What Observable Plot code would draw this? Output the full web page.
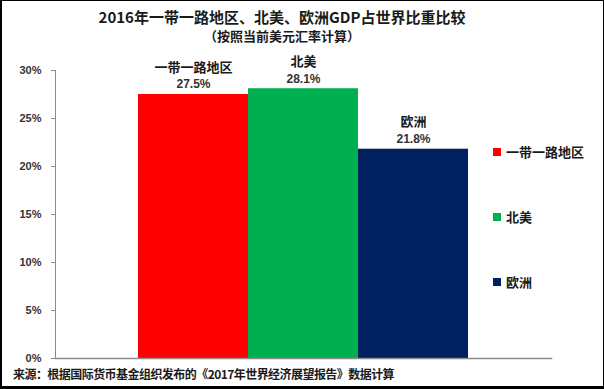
<!DOCTYPE html>
<html>
<head>
<meta charset="utf-8">
<script src="https://cdn.jsdelivr.net/npm/d3@7"></script>
<script src="https://cdn.jsdelivr.net/npm/@observablehq/plot@0.6"></script>
<style>
  html, body { margin: 0; padding: 0; background: #fff; }
  #wrap { position: relative; width: 604px; height: 389px; overflow: hidden; background: #fff;
          font-family: "Noto Sans CJK SC", "Liberation Sans", sans-serif; color: #1a1a1a; }
  #border { position: absolute; left: 0; top: 0; width: 604px; height: 389px; box-sizing: border-box;
            border-style: solid; border-color: #000; border-width: 1px 1px 3px 2px; pointer-events: none; }
  .title { position: absolute; left: 0; width: 564px; text-align: center; font-weight: bold; white-space: nowrap; }
  #t1 { top: 8px; font-size: 15px; line-height: 18px; }
  #t2 { top: 28px; font-size: 13px; line-height: 16px; }
  #chart { position: absolute; left: 0; top: 48px; }
  #caption { position: absolute; left: 13px; top: 366px; font-size: 12px; line-height: 16px; font-weight: bold;
             white-space: nowrap; letter-spacing: -0.55px; }
  #legend { position: absolute; left: 493px; top: 0; }
  .item { position: absolute; left: 0; display: flex; align-items: center; white-space: nowrap;
          font-size: 13px; font-weight: bold; line-height: 16px; }
  .sw { width: 8px; height: 8px; margin-right: 5px; }
</style>
</head>
<body>
<div id="wrap">
  <div class="title" id="t1"></div>
  <div class="title" id="t2"></div>
  <div id="chart"></div>
  <div id="legend"></div>
  <div id="caption"></div>
  <div id="border"></div>
</div>
<script>
const title = "2016年一带一路地区、北美、欧洲GDP占世界比重比较";
const subtitle = "（按照当前美元汇率计算）";
const caption = "来源：根据国际货币基金组织发布的《2017年世界经济展望报告》数据计算";
const regions = ["一带一路地区", "北美", "欧洲"];
const shares = [27.5, 28.1, 21.8];
const colors = ["#FF0000", "#00B050", "#002060"];
const yTicks = [0, 5, 10, 15, 20, 25, 30];

document.getElementById("t1").textContent = title;
document.getElementById("t2").textContent = subtitle;
document.getElementById("caption").textContent = caption;

const data = regions.map((r, i) => ({region: r, value: shares[i]}));

const chart = Plot.plot({
  width: 604,
  height: 318,
  marginTop: 22,
  marginBottom: 8,
  marginLeft: 55,
  marginRight: 53,
  style: {fontFamily: "'Noto Sans CJK SC', 'Liberation Sans', sans-serif", background: "transparent", overflow: "visible"},
  x: {type: "band", domain: regions, paddingInner: 0, paddingOuter: 0.75, axis: null},
  y: {domain: [0, 30], axis: null},
  color: {domain: regions, range: colors},
  marks: [
    Plot.barY(data, {x: "region", y: "value", fill: "region", inset: 0}),
    Plot.frame({anchor: "left", stroke: "#8c8c8c", strokeWidth: 1}),
    Plot.frame({anchor: "bottom", stroke: "#8c8c8c", strokeWidth: 1.5}),
    Plot.axisY({ticks: yTicks, tickFormat: d => d + "%", tickSize: 4, tickPadding: 10,
                stroke: "#8c8c8c", fill: "#333", fontSize: 11, fontWeight: "bold", label: null,
                fontFamily: "'Liberation Sans', sans-serif"}),
    Plot.text(data, {x: "region", y: "value", text: d => d.value.toFixed(1) + "%", dy: -10,
                     fontSize: 12, fontWeight: "bold", fill: "#333", fontFamily: "'Liberation Sans', sans-serif"}),
    Plot.text(data, {x: "region", y: "value", text: "region", dy: -27,
                     fontSize: 13, fontWeight: "bold", fill: "#1a1a1a"})
  ]
});
document.getElementById("chart").appendChild(chart);

const legendY = [152, 217, 282];
const legend = document.getElementById("legend");
regions.forEach((r, i) => {
  const it = document.createElement("div");
  it.className = "item";
  it.style.top = (legendY[i] - 8) + "px";
  const sw = document.createElement("div");
  sw.className = "sw";
  sw.style.background = colors[i];
  const tx = document.createElement("span");
  tx.textContent = r;
  it.appendChild(sw);
  it.appendChild(tx);
  legend.appendChild(it);
});
</script>
</body>
</html>
